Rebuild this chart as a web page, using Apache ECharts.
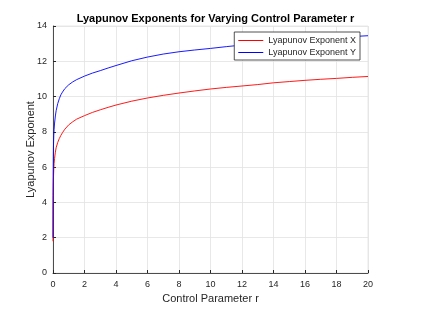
<!DOCTYPE html>
<html><head><meta charset="utf-8">
<script src="https://cdn.jsdelivr.net/npm/echarts@6/dist/echarts.min.js"></script>
<style>html,body{margin:0;padding:0;background:#fff}#c{width:421px;height:309px}</style>
</head><body><div id="c"></div>
<script>
var rValues = [0, 0.005, 0.01, 0.02, 0.03, 0.05, 0.07, 0.1, 0.15, 0.2, 0.3, 0.4, 0.5, 0.6, 0.75, 1, 1.25, 1.5, 2, 2.5, 3, 3.5, 4, 5, 6, 7, 8, 9, 10, 11, 12, 13, 14, 15, 16, 17, 18, 19, 20];
var lyapX = [1.8, 3.3, 4.0, 4.9, 5.4, 5.9, 6.2, 6.5, 6.85, 7.1, 7.4, 7.62, 7.8, 7.95, 8.15, 8.4, 8.57, 8.72, 8.92, 9.1, 9.25, 9.39, 9.52, 9.74, 9.92, 10.07, 10.2, 10.32, 10.43, 10.52, 10.6, 10.68, 10.78, 10.85, 10.92, 10.98, 11.03, 11.09, 11.14];
var lyapY = [2.0, 4.4, 5.5, 6.6, 7.2, 7.8, 8.15, 8.5, 8.9, 9.2, 9.6, 9.88, 10.1, 10.25, 10.45, 10.67, 10.83, 10.96, 11.16, 11.33, 11.47, 11.62, 11.76, 12.03, 12.24, 12.41, 12.54, 12.64, 12.73, 12.83, 12.92, 13.0, 13.07, 13.14, 13.2, 13.27, 13.33, 13.4, 13.45];
var seriesNames = ['Lyapunov Exponent X', 'Lyapunov Exponent Y'];
var seriesColors = ['#ff0000', '#0000ff'];

function pairs(xs, ys){ return xs.map(function(x,i){ return [x, ys[i]]; }); }
var font = 'Liberation Sans, Arial, sans-serif';
var chart = echarts.init(document.getElementById('c'), null, {renderer:'canvas'});
chart.setOption({
  animation: false,
  backgroundColor: '#fff',
  title: {
    text: 'Lyapunov Exponents for Varying Control Parameter r',
    left: 210.5, textAlign: 'center', top: 8,
    textStyle: {fontFamily: font, fontSize: 11, fontWeight: 'bold', color: '#000'}
  },
  grid: {left: 53, right: 53, top: 26, bottom: 34, show: true, borderColor: '#e2e2e2', borderWidth: 0.8},
  legend: {
    orient: 'vertical', right: 61, top: 32,
    data: seriesNames,
    icon: 'rect',
    itemWidth: 25, itemHeight: 1, itemGap: 3,
    padding: [4, 4, 3, 4],
    borderColor: '#262626', borderWidth: 0.8, backgroundColor: '#fff',
    textStyle: {fontFamily: font, fontSize: 9, color: '#262626', lineHeight: 9}
  },
  xAxis: {
    type: 'value', min: 0, max: 20, interval: 2,
    name: 'Control Parameter r', nameLocation: 'middle', nameGap: 20, nameMoveOverlap: false,
    nameTextStyle: {fontFamily: font, fontSize: 11, color: '#262626'},
    axisLine: {show: true, lineStyle: {color: '#262626', width: 0.8}},
    axisTick: {show: true, inside: true, length: 3, lineStyle: {color: '#262626'}},
    axisLabel: {fontFamily: font, fontSize: 9, color: '#262626', margin: 7},
    splitLine: {show: true, lineStyle: {color: '#e2e2e2', width: 0.8}}
  },
  yAxis: {
    type: 'value', min: 0, max: 14, interval: 2,
    name: 'Lyapunov Exponent', nameLocation: 'middle', nameGap: 17, nameMoveOverlap: false,
    nameTextStyle: {fontFamily: font, fontSize: 11, color: '#262626'},
    axisLine: {show: true, lineStyle: {color: '#262626', width: 0.8}},
    axisTick: {show: true, inside: true, length: 3, lineStyle: {color: '#262626'}},
    axisLabel: {fontFamily: font, fontSize: 9, color: '#262626', margin: 6},
    splitLine: {show: true, lineStyle: {color: '#e2e2e2', width: 0.8}}
  },
  series: [
    {name: seriesNames[0], type: 'line', data: pairs(rValues, lyapX), symbol: 'none',
     lineStyle: {color: seriesColors[0], width: 0.9}, itemStyle: {color: seriesColors[0]}},
    {name: seriesNames[1], type: 'line', data: pairs(rValues, lyapY), symbol: 'none',
     lineStyle: {color: seriesColors[1], width: 0.9}, itemStyle: {color: seriesColors[1]}}
  ]
});
</script></body></html>
